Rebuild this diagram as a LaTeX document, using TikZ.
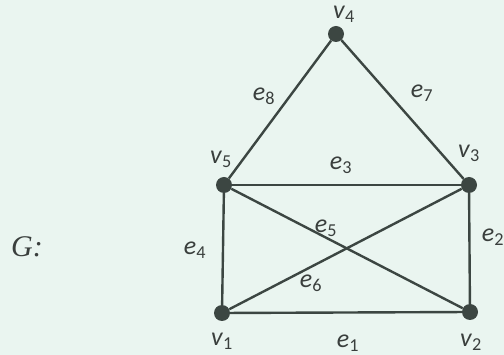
\documentclass[tikz,border=0pt]{standalone}
\usepackage{fontspec}
\setmainfont{Carlito}
\newfontfamily\gfont{Liberation Serif}
\definecolor{bgc}{HTML}{EAF5F0}
\definecolor{ink}{HTML}{3C4642}
\definecolor{txt}{HTML}{3A3F3D}
\newcommand{\lab}[2]{\textit{#1}\textsubscript{#2}}
\begin{document}
\begin{tikzpicture}[x=1pt,y=-1pt,
  vtx/.style={circle,fill=ink,inner sep=0pt,minimum size=16pt},
  edge/.style={draw=ink,line width=2.4pt},
  lbl/.style={text=txt,font=\fontsize{26}{30}\selectfont,inner sep=0pt}]
\fill[bgc] (0,0) rectangle (504,355);
\useasboundingbox (0,0) rectangle (504,355);
\node[vtx] (v4) at (336,34) {};
\node[vtx] (v5) at (224,185) {};
\node[vtx] (v3) at (469,185) {};
\node[vtx] (v1) at (222,313) {};
\node[vtx] (v2) at (470,312) {};
\draw[edge] (v1) -- (v2);
\draw[edge] (v2) -- (v3);
\draw[edge] (v5) -- (v3);
\draw[edge] (v1) -- (v5);
\draw[edge] (v5) -- (v2);
\draw[edge] (v1) -- (v3);
\draw[edge] (v4) -- (v3);
\draw[edge] (v4) -- (v5);
\node[lbl] (lv4) at (344,14) {\lab{v}{4}};
\node[lbl] (lv5) at (221,159) {\lab{v}{5}};
\node[lbl] (lv3) at (469,153) {\lab{v}{3}};
\node[lbl] (lv1) at (222,341) {\lab{v}{1}};
\node[lbl] (lv2) at (471,342) {\lab{v}{2}};
\node[lbl] (le8) at (264,96) {\lab{e}{8}};
\node[lbl] (le7) at (422,93) {\lab{e}{7}};
\node[lbl] (le3) at (341,165) {\lab{e}{3}};
\node[lbl] (le5) at (326,228) {\lab{e}{5}};
\node[lbl] (le2) at (493,237) {\lab{e}{2}};
\node[lbl] (le4) at (195,250) {\lab{e}{4}};
\node[lbl] (le6) at (311,283) {\lab{e}{6}};
\node[lbl] (le1) at (348,343) {\lab{e}{1}};
\node[text=txt,inner sep=0pt,font=\gfont\itshape\fontsize{30}{34}\selectfont] (g) at (27,247) {G:};
\end{tikzpicture}
\end{document}
